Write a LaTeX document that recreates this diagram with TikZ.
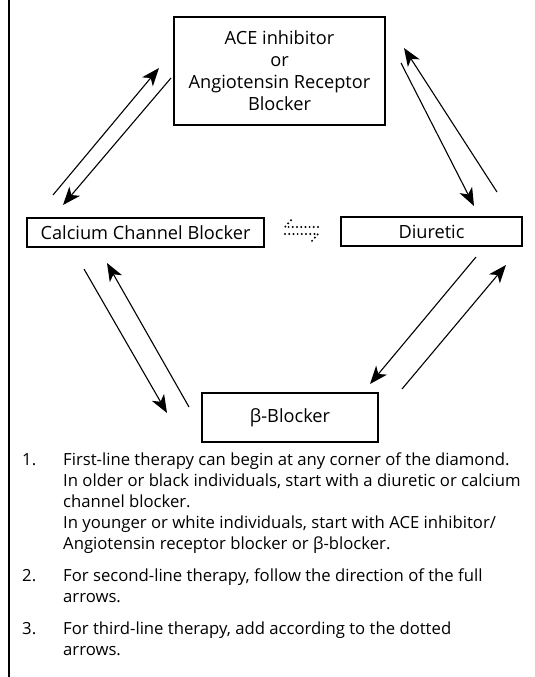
\documentclass[tikz,border=0pt]{standalone}
\usepackage{fontspec}
\setmainfont{Open Sans}
\usetikzlibrary{arrows.meta}
\begin{document}
\begin{tikzpicture}[x=1pt,y=-1pt,
  box/.style={draw,line width=1.1pt,inner sep=0pt,align=center,font=\fontsize{18.2}{22}\selectfont},
  arr/.style={line width=1.1pt,-{Stealth[length=18pt,width=14pt,inset=5pt]}},
  dots/.style={line width=2.2pt,dash pattern=on 0pt off 4.2pt,line cap=round},
  listtxt/.style={anchor=north west,align=left,inner sep=0pt,font=\fontsize{16.7}{21}\selectfont},
  num/.style={anchor=north west,inner sep=0pt,font=\fontsize{16.7}{21}\selectfont}]
\useasboundingbox (0,0) rectangle (535,677);
\draw[line width=1.6pt] (9,0) -- (9,677);
% boxes
\node[box,minimum width=211pt,minimum height=108pt] (ace) at (279.5,71) {ACE inhibitor\\or\\Angiotensin Receptor\\Blocker};
\node[box,minimum width=237pt,minimum height=29pt] (ccb) at (145.5,232.5) {Calcium Channel Blocker};
\node[box,minimum width=181pt,minimum height=29pt] (diu) at (431.5,231.5) {Diuretic};
\node[box,minimum width=176pt,minimum height=49pt] (bb) at (290,417.5) {β-Blocker};
% arrow end points
\coordinate (a1s) at (53,195);  \coordinate (a1e) at (159,68);
\coordinate (a2s) at (171,78);  \coordinate (a2e) at (63,205);
\coordinate (a3s) at (401,63);  \coordinate (a3e) at (474,206);
\coordinate (a4s) at (497,192); \coordinate (a4e) at (404,48);
\coordinate (a5s) at (84,269);  \coordinate (a5e) at (167,413);
\coordinate (a6s) at (189,407); \coordinate (a6e) at (107,263);
\coordinate (a7s) at (476,257); \coordinate (a7e) at (370,384);
\coordinate (a8s) at (402,389); \coordinate (a8e) at (506,265);
\foreach \i in {1,...,8} {\draw[arr] (a\i s) -- (a\i e);}
% dotted arrows
\coordinate (d1) at (285,227); \coordinate (d2) at (318,227); \coordinate (d3) at (292,219);
\coordinate (d4) at (285,234); \coordinate (d5) at (318,234); \coordinate (d6) at (311,242);
\draw[dots] (d2) -- (d1) -- (d3);
\draw[dots] (d4) -- (d5) -- (d6);
% list
\node[num] (n1) at (22,453) {1.};
\node[listtxt] (t1) at (63,453) {First-line therapy can begin at any corner of the diamond.\\In older or black individuals, start with a diuretic or calcium\\channel blocker.\\In younger or white individuals, start with ACE inhibitor/\\Angiotensin receptor blocker or β-blocker.};
\node[num] (n2) at (22,569) {2.};
\node[listtxt] (t2) at (63,569) {For second-line therapy, follow the direction of the full\\arrows.};
\node[num] (n3) at (22,622) {3.};
\node[listtxt] (t3) at (63,622) {For third-line therapy, add according to the dotted\\arrows.};
\end{tikzpicture}
\end{document}
